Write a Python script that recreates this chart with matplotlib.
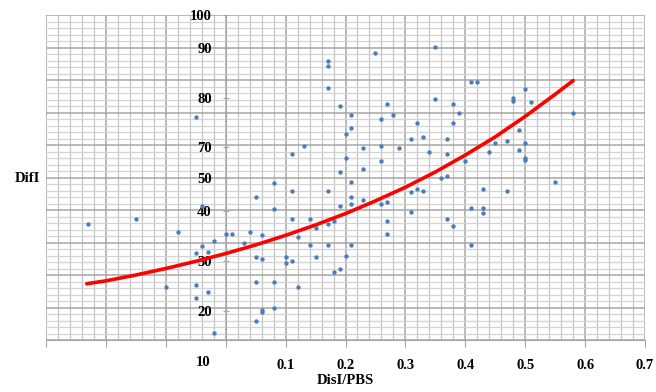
import matplotlib.pyplot as plt
import numpy as np
from matplotlib.ticker import MultipleLocator

# scatter data (DisI/PBS vs DifI)
dis_pbs = [-0.23, -0.15, -0.10, -0.08, -0.05, -0.05, -0.05, -0.05, -0.04, -0.04,
           -0.03, -0.03, -0.02, -0.02, 0.00, 0.01, 0.03, 0.04, 0.05, 0.06,
           0.05, 0.06, 0.05, 0.08, 0.06, 0.06, 0.08, 0.05, 0.08, 0.08,
           0.10, 0.10, 0.11, 0.11, 0.12, 0.12, 0.11, 0.11, 0.13, 0.14,
           0.14, 0.15, 0.15, 0.17, 0.17, 0.17, 0.17, 0.17, 0.17, 0.18,
           0.18, 0.19, 0.19, 0.19, 0.19, 0.20, 0.20, 0.20, 0.21, 0.21,
           0.21, 0.21, 0.21, 0.21, 0.23, 0.23, 0.23, 0.25, 0.26, 0.26,
           0.26, 0.26, 0.27, 0.27, 0.27, 0.27, 0.28, 0.29, 0.31, 0.31,
           0.31, 0.32, 0.32, 0.33, 0.33, 0.34, 0.35, 0.35, 0.36, 0.37,
           0.37, 0.37, 0.37, 0.38, 0.38, 0.38, 0.39, 0.40, 0.41, 0.42,
           0.41, 0.41, 0.43, 0.43, 0.43, 0.44, 0.45, 0.47, 0.47, 0.48,
           0.48, 0.49, 0.49, 0.50, 0.50, 0.50, 0.50, 0.51, 0.55, 0.58]
dif_i = [35.6, 37.3, 16.4, 33.3, 68.5, 26.7, 16.9, 12.8, 41.3, 28.9,
         27.0, 14.7, 30.6, 2.2, 32.7, 32.7, 29.9, 33.3, 44.1, 32.3,
         25.4, 24.8, 17.9, 17.9, 9.2, 8.7, 9.8, 5.8, 40.2, 48.2,
         25.4, 23.7, 24.3, 37.3, 31.6, 16.4, 45.9, 57.3, 59.6, 37.3,
         29.3, 25.4, 34.4, 35.6, 29.3, 45.9, 85.8, 84.3, 77.6, 36.6,
         20.8, 21.8, 41.3, 51.6, 72.1, 63.5, 56.1, 25.9, 69.2, 65.1,
         48.7, 44.1, 41.8, 29.3, 59.0, 52.7, 43.1, 88.3, 68.0, 59.6,
         55.1, 41.8, 42.4, 72.6, 36.7, 32.7, 69.2, 59.0, 61.8, 45.6,
         39.5, 66.9, 46.5, 62.4, 45.9, 57.9, 74.2, 90.1, 49.9, 50.4,
         61.8, 57.3, 37.3, 72.6, 66.9, 35.1, 69.8, 55.1, 79.4, 79.4,
         40.7, 29.3, 46.5, 40.7, 39.1, 57.9, 60.7, 61.2, 45.9, 74.4,
         73.4, 64.5, 58.5, 77.1, 60.7, 56.1, 55.4, 73.1, 48.7, 69.8]

# trend line
trend_x = [-0.232, -0.20, -0.15, -0.10, -0.05, 0.0, 0.05, 0.10, 0.15, 0.20,
           0.25, 0.30, 0.35, 0.40, 0.45, 0.50, 0.55, 0.58]
trend_y = [17.3, 18.2, 20.0, 22.0, 24.2, 26.6, 29.25, 32.2, 35.4, 38.9,
           42.8, 47.0, 51.7, 56.9, 62.5, 68.8, 75.6, 79.8]

# odd y labels as they sit on the original axis
ytick_pos = [100, 89.7, 74.4, 59.5, 49.8, 39.7, 24.3, 8.9]
ytick_lab = ['100', '90', '80', '70', '50', '40', '30', '20']
xtick_pos = [-0.3, -0.2, -0.1, 0.0, 0.1, 0.2, 0.3, 0.4, 0.5, 0.6, 0.7]
xtick_lab = ['', '', '', '', '0.1', '0.2', '0.3', '0.4', '0.5', '0.6', '0.7']

plt.rcParams['font.family'] = ['Liberation Serif', 'DejaVu Serif']
plt.rcParams['font.weight'] = 'bold'

fig = plt.figure(figsize=(6.56, 3.92), dpi=100)
ax = fig.add_axes([46/656, 52/392, 599/656, 325/392])

ax.set_xlim(-0.3, 0.7)
ax.set_ylim(0, 100)

# grid
for x in np.arange(-0.3, 0.7001, 0.02):
    major = abs(round(x / 0.1) * 0.1 - x) < 1e-6
    ax.axvline(x, color='#a6a6a6' if major else '#c4c4c4',
               lw=1.1 if major else 0.9, zorder=0)
for y in np.arange(0, 100.01, 2):
    major = abs(y % 10) < 1e-6
    ax.axhline(y, color='#a6a6a6' if major else '#d3d3d3',
               lw=1.1 if major else 0.9, zorder=0)

ax.scatter(dis_pbs, dif_i, s=10, color='#4a7ebb', zorder=3, linewidths=0)
ax.plot(trend_x, trend_y, color='#ff0000', lw=2.6, solid_capstyle='round', zorder=4)

for s in ['top', 'right']:
    ax.spines[s].set_visible(False)
ax.spines['left'].set_position(('data', 0))
ax.spines['left'].set_color('#a6a6a6')
ax.spines['bottom'].set_color('#a6a6a6')

ax.set_yticks(ytick_pos)
ax.set_yticklabels(ytick_lab)
ax.set_xticks(xtick_pos)
ax.set_xticklabels(xtick_lab)
ax.tick_params(axis='y', length=4, direction='inout', color='#a6a6a6',
               pad=8, labelsize=10.5)
ax.tick_params(axis='x', length=5, direction='out', color='#a6a6a6',
               pad=9, labelsize=10.5)
for lab in ax.get_xticklabels() + ax.get_yticklabels():
    lab.set_fontweight('bold')

ax.text(-0.025, -6.8, '10', ha='right', va='center', fontsize=10.5,
        fontweight='bold', clip_on=False)

fig.text(40/656, 1 - 178/392, 'DifI', ha='right', va='center',
         fontsize=10.5, fontweight='bold')
fig.text(345/656, 1 - 381/392, 'DisI/PBS', ha='center', va='center',
         fontsize=10.5, fontweight='bold')

fig.savefig('out.png', dpi=100)
